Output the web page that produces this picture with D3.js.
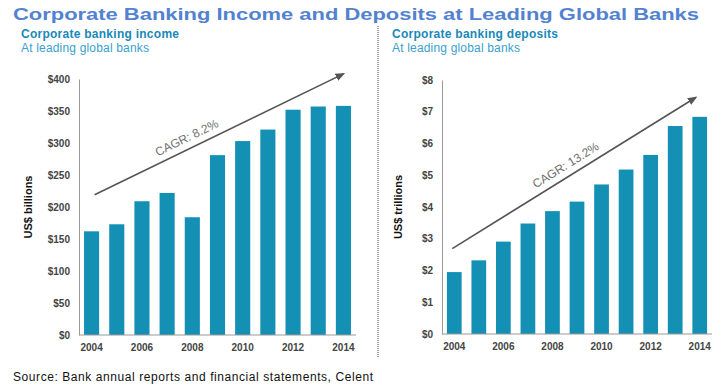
<!DOCTYPE html>
<html><head><meta charset="utf-8">
<script src="https://cdn.jsdelivr.net/npm/d3@7"></script>
<style>body{margin:0;background:#fff}svg{display:block;font-family:Arial,"Liberation Sans",sans-serif}</style>
</head><body><svg id="c" width="726" height="391"></svg>
<script>
const years = [2004,2005,2006,2007,2008,2009,2010,2011,2012,2013,2014];
const incomeValues = [162,173,209,222,184,281,303,321,352,357,358];
const depositValues = [1.95,2.32,2.91,3.48,3.87,4.17,4.71,5.18,5.64,6.55,6.84];
const incomeTicks = [0,50,100,150,200,250,300,350,400];
const depositTicks = [0,1,2,3,4,5,6,7,8];
const xTickYears = [2004,2006,2008,2010,2012,2014];
const incomeCagr = {label:"CAGR: 8.2%", from:[2004,219], to:[2014,408]};
const depositCagr = {label:"CAGR: 13.2%", from:[2004,2.69], to:[2014,7.45]};

const svg = d3.select("#c");
const barColor = "#1490b4";

svg.append("text").attr("x",13).attr("y",20).attr("font-size",17).attr("font-weight","bold")
  .attr("fill","#5282d0").attr("textLength",686).attr("lengthAdjust","spacingAndGlyphs")
  .text("Corporate Banking Income and Deposits at Leading Global Banks");

svg.append("line").attr("x1",378).attr("x2",378).attr("y1",26).attr("y2",358)
  .attr("stroke","#a898b0").attr("stroke-width",2).attr("stroke-dasharray","1,1");

svg.append("text").attr("x",13).attr("y",381).attr("font-size",12).attr("fill","#111")
  .attr("textLength",360).attr("lengthAdjust","spacing")
  .text("Source: Bank annual reports and financial statements, Celent");

const defs = svg.append("defs");
defs.append("marker").attr("id","arr").attr("viewBox","0 0 10 10").attr("refX",8).attr("refY",5)
  .attr("markerWidth",6).attr("markerHeight",6).attr("orient","auto")
  .append("path").attr("d","M0,1 L10,5 L0,9 Z").attr("fill","#555");

function panel(o){
  const g = svg.append("g");
  g.append("text").attr("x",o.titleX).attr("y",38).attr("font-size",12).attr("font-weight","bold")
    .attr("fill","#1a88b8").attr("textLength",o.titleLen).attr("lengthAdjust","spacing").text(o.title);
  g.append("text").attr("x",o.titleX).attr("y",52).attr("font-size",12)
    .attr("fill","#3aa0cc").attr("textLength",128).attr("lengthAdjust","spacing").text("At leading global banks");
  const x = d3.scaleBand().domain(years).range([o.x0,o.x1]).paddingInner(0.4).paddingOuter(0.2);
  const y = d3.scaleLinear().domain([0,o.max]).range([o.y0,o.y1]);
  g.selectAll("rect.bar").data(o.values).join("rect").attr("class","bar")
    .attr("x",(d,i)=>x(years[i])).attr("width",x.bandwidth())
    .attr("y",d=>y(d)).attr("height",d=>y(0)-y(d)).attr("fill",barColor);
  const ya = d3.axisLeft(y).tickValues(o.ticks).tickSize(0).tickPadding(9).tickFormat(o.fmt);
  const yg = g.append("g").attr("transform",`translate(${o.x0},0)`).call(ya);
  yg.select(".domain").attr("stroke","#999");
  yg.selectAll("text").attr("font-size",10).attr("font-weight","bold").attr("fill","#444")
    .attr("font-family","Arial, 'Liberation Sans', sans-serif");
  const xa = d3.axisBottom(x).tickValues(xTickYears).tickSize(0).tickPadding(9);
  const xg = g.append("g").attr("transform",`translate(0,${o.y0})`).call(xa);
  xg.select(".domain").attr("stroke","#999").attr("d",`M${o.x0},0H${o.x1}`);
  xg.selectAll("text").attr("font-size",10).attr("font-weight","bold").attr("fill","#444")
    .attr("font-family","Arial, 'Liberation Sans', sans-serif");
  g.append("text").attr("transform",`translate(${o.yTitleX},${(o.y0+o.y1)/2}) rotate(-90)`)
    .attr("text-anchor","middle").attr("font-size",11).attr("font-weight","bold").attr("fill","#111")
    .text(o.yTitle);
  const cx = yr => x(yr)+x.bandwidth()/2;
  const p0=[cx(o.cagr.from[0])+o.dx0, y(o.cagr.from[1])], p1=[cx(o.cagr.to[0])+o.dx1, y(o.cagr.to[1])];
  g.append("line").attr("x1",p0[0]).attr("y1",p0[1]).attr("x2",p1[0]).attr("y2",p1[1])
    .attr("stroke","#555").attr("stroke-width",1.6).attr("marker-end","url(#arr)");
  const ang = Math.atan2(p1[1]-p0[1],p1[0]-p0[0]);
  const mx = p0[0]+(p1[0]-p0[0])*o.frac, my = p0[1]+(p1[1]-p0[1])*o.frac;
  const off = 7;
  g.append("text").attr("transform",`translate(${mx+Math.sin(ang)*off},${my-Math.cos(ang)*off}) rotate(${ang*180/Math.PI})`)
    .attr("text-anchor","middle").attr("font-size",12).attr("fill","#707070").text(o.cagr.label);
}

panel({title:"Corporate banking income", titleX:21, titleLen:158, x0:79, x1:356, y0:335, y1:79, max:400,
  values:incomeValues, ticks:incomeTicks, fmt:d=>"$"+d, yTitle:"US$ billions", yTitleX:32,
  cagr:incomeCagr, dx0:3, dx1:0, frac:0.39});
panel({title:"Corporate banking deposits", titleX:392, titleLen:166, x0:442, x1:712, y0:334, y1:80, max:8,
  values:depositValues, ticks:depositTicks, fmt:d=>"$"+d, yTitle:"US$ trillions", yTitleX:402,
  cagr:depositCagr, dx0:-2, dx1:-4, frac:0.49});
</script></body></html>
